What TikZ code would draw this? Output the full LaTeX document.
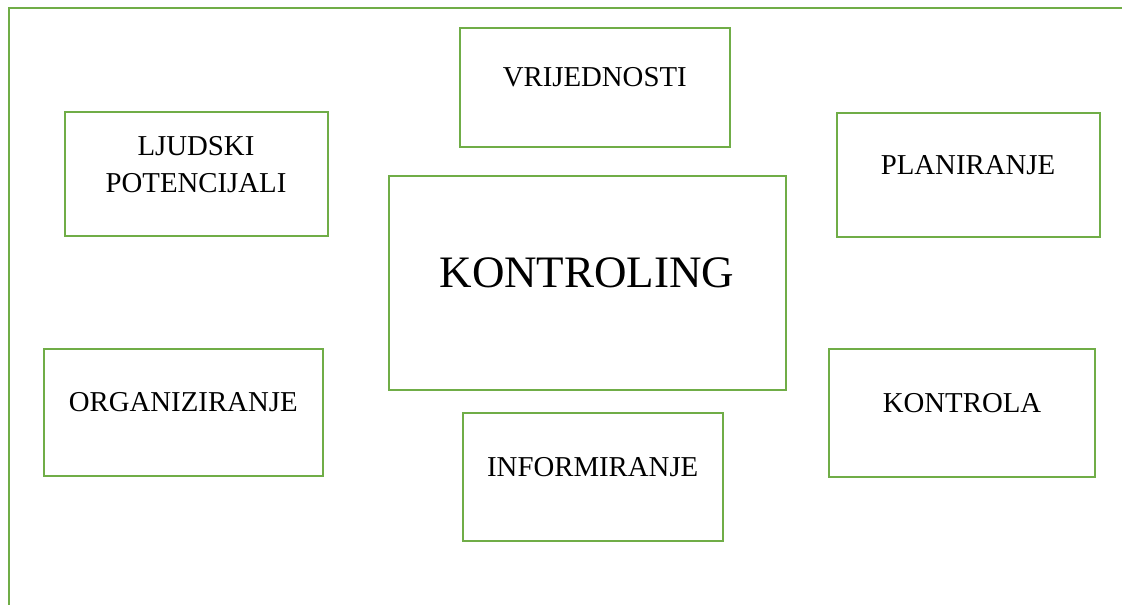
\documentclass[tikz,border=0pt]{standalone}
\usepackage{fontspec}
\setmainfont{Liberation Serif}
\definecolor{boxgreen}{HTML}{70AD47}
\begin{document}
\begin{tikzpicture}[x=1pt,y=-1pt,
  box/.style={draw=boxgreen, line width=2pt, inner sep=0pt, outer sep=0pt},
  lbl/.style={anchor=base, inner sep=0pt, font=\fontsize{28.8}{37}\selectfont, align=center},
  biglbl/.style={anchor=base, inner sep=0pt, font=\fontsize{45}{52}\selectfont}]
\useasboundingbox (0,0) rectangle (1122,605);
% outer frame
\coordinate (fbl) at (8.5,605);
\coordinate (ftl) at (8.5,7.5);
\coordinate (ftr) at (1122,7.5);
\draw[boxgreen, line width=2pt] (fbl) -- (ftl) -- (ftr);
% boxes
\newcommand{\mybox}[5]{\node[box, anchor=north west, minimum width=#4pt-#2pt, minimum height=#5pt-#3pt] (#1) at (#2,#3) {};}
\mybox{vrij}{459.5}{27.5}{730}{146.5}
\mybox{ljud}{64.5}{111.5}{327.5}{235.5}
\mybox{plan}{836.5}{112.5}{1099.5}{236.5}
\mybox{kont}{388.5}{176}{785.5}{390}
\mybox{org}{43.5}{349}{323}{476}
\mybox{ktrl}{829}{349}{1095}{476.5}
\mybox{info}{463}{412.5}{722.5}{541}
% labels
\node[lbl] (tvrij) at (vrij.center |- 0,86) {VRIJEDNOSTI};
\node[lbl] (tljud1) at (ljud.center |- 0,155) {LJUDSKI};
\node[lbl] (tljud2) at (ljud.center |- 0,192.5) {POTENCIJALI};
\node[lbl] (tplan) at (plan.center |- 0,174) {PLANIRANJE};
\node[biglbl] (tkont) at (kont.center |- 0,287.5) {KONTROLING};
\node[lbl] (torg) at (org.center |- 0,411) {ORGANIZIRANJE};
\node[lbl] (tktrl) at (ktrl.center |- 0,412.5) {KONTROLA};
\node[lbl] (tinfo) at (info.center |- 0,476) {INFORMIRANJE};
\end{tikzpicture}
\end{document}
